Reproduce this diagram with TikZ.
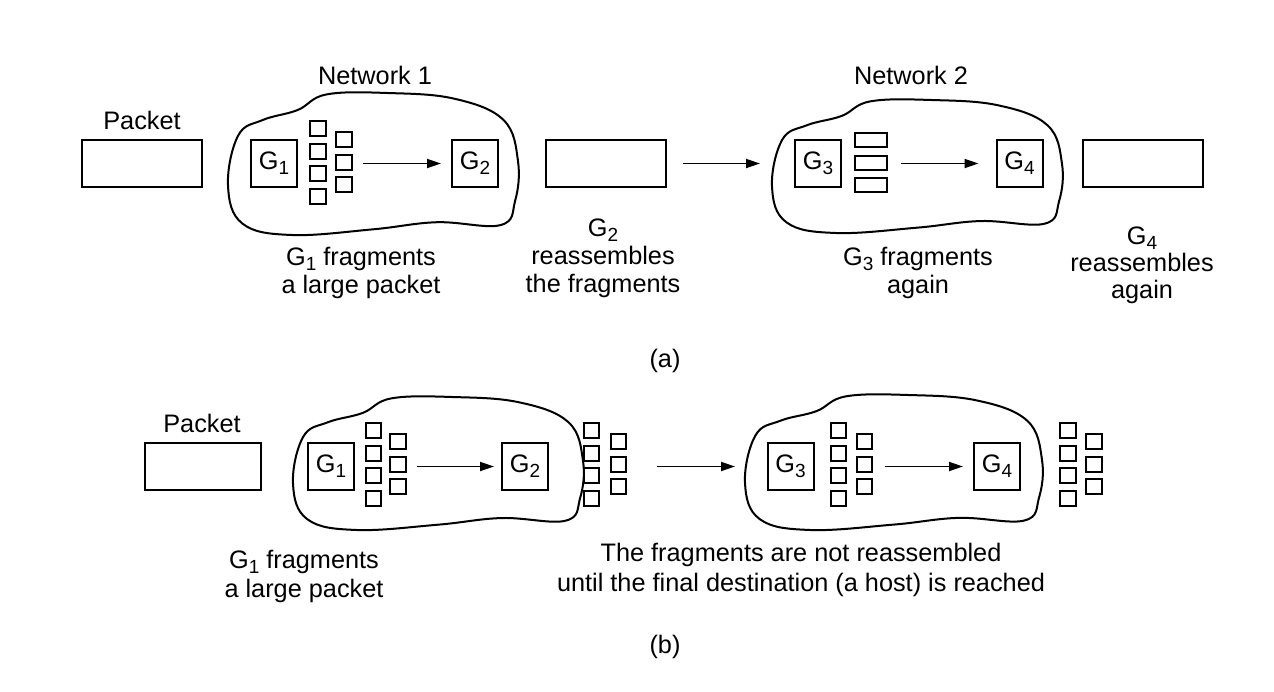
\documentclass[tikz,border=0pt]{standalone}
\usepackage{fontspec}
\setmainfont{Liberation Sans}
\usetikzlibrary{arrows.meta}
\newcommand\fs{\fontsize{25.3}{28}\selectfont}
\newcommand\gs[1]{G\raisebox{-5pt}{\fontsize{19}{19}\selectfont #1}}
\newcommand\netcloud[4]{%
  \begin{scope}[shift={(#1,#4)}, xscale={#3-#1}, yscale={-(#4-#2)}]
    \draw[cloudline] plot[smooth cycle, tension=0.65] coordinates {
      (0,0.35) (0.035,0.70) (0.12,0.81) (0.24,0.88) (0.34,0.99) (0.55,1.0)
      (0.78,0.96) (0.95,0.81) (1.0,0.52) (0.99,0.24) (0.94,0.07) (0.72,0.09)
      (0.50,0.04) (0.22,0.0) (0.05,0.08)};
  \end{scope}}
\begin{document}
\begin{tikzpicture}[x=1pt,y=-1pt,line width=2pt,
  gw/.style={draw, inner sep=0pt, minimum width=46pt, minimum height=47pt, font=\fs},
  pkt/.style={draw, inner sep=0pt, minimum width=120pt, minimum height=47pt},
  sq/.style={draw, inner sep=0pt, minimum width=15.5pt, minimum height=15pt},
  wsq/.style={draw, inner sep=0pt, minimum width=32pt, minimum height=14.5pt},
  txt/.style={inner sep=0pt, anchor=base, font=\fs},
  arr/.style={line width=1.8pt, -{Triangle[length=14pt,width=9pt]}},
  cloudline/.style={line width=2pt}]
\useasboundingbox (0,0) rectangle (1274,691);

% ---------------- (a) ----------------
\node[txt] (n1) at (375,84) {Network 1};
\node[txt] (n2) at (911,84) {Network 2};
\netcloud{228}{93}{518}{235}
\netcloud{772}{100}{1062}{233}

\node[pkt] (pA1) at (142,163.5) {};
\node[txt] (lpA) at (142,129.5) {Packet};
\node[gw] (g1a) at (274,163.5) {\gs{1}};
\foreach \y [count=\i] in {128.5,151,173.5,196} \node[sq] (fa1\i) at (318,\y) {};
\foreach \y [count=\i] in {139.5,162,184.5} \node[sq] (fa2\i) at (344,\y) {};
\coordinate (a1s) at (363,163.5);
\node[gw] (g2a) at (475,163.5) {\gs{2}};
\draw[arr, shorten >=10pt] (a1s) -- (g2a.west);

\node[pkt] (pA2) at (606,163.5) {};
\coordinate (a2s) at (683,163.5);
\coordinate (a2e) at (760,163.5);
\draw[arr] (a2s) -- (a2e);

\node[gw] (g3a) at (818,163.5) {\gs{3}};
\foreach \y [count=\i] in {140,163,185} \node[wsq] (fw\i) at (871,\y) {};
\coordinate (a3s) at (901,163.5);
\node[gw] (g4a) at (1019.5,163.5) {\gs{4}};
\draw[arr, shorten >=17pt] (a3s) -- (g4a.west);
\node[pkt] (pA3) at (1143,163.5) {};

\node[txt] (t1a) at (361,265) {\gs{1} fragments};
\node[txt] (t1b) at (361,293) {a large packet};
\node[txt] (t2a) at (603,236) {\gs{2}};
\node[txt] (t2b) at (603,264) {reassembles};
\node[txt] (t2c) at (603,292) {the fragments};
\node[txt] (t3a) at (918,265) {\gs{3} fragments};
\node[txt] (t3b) at (918,293) {again};
\node[txt] (t4a) at (1142,244) {\gs{4}};
\node[txt] (t4b) at (1142,271) {reassembles};
\node[txt] (t4c) at (1142,298) {again};
\node[txt] (capa) at (665,367) {(a)};

% ---------------- (b) ----------------
\netcloud{293}{397}{583}{530}
\netcloud{745}{395}{1042}{530}

\node[pkt, minimum width=116pt] (pB) at (203,466.5) {};
\node[txt] (lpB) at (202,432) {Packet};
\node[gw] (g1b) at (331,466.5) {\gs{1}};
\foreach \y [count=\i] in {430,453,475,498} \node[sq] (fb1\i) at (373.5,\y) {};
\foreach \y [count=\i] in {441,464,486} \node[sq] (fb2\i) at (398,\y) {};
\coordinate (b1s) at (417,466.5);
\node[gw] (g2b) at (525,466.5) {\gs{2}};
\draw[arr, shorten >=7pt] (b1s) -- (g2b.west);

\foreach \y [count=\i] in {430,453,475,498} \node[sq] (fc1\i) at (591.5,\y) {};
\foreach \y [count=\i] in {441,464,486} \node[sq] (fc2\i) at (618.5,\y) {};
\coordinate (b2s) at (657,466.5);
\coordinate (b2e) at (735,466.5);
\draw[arr] (b2s) -- (b2e);

\node[gw] (g3b) at (790.5,466.5) {\gs{3}};
\foreach \y [count=\i] in {430,453,475,498} \node[sq] (fd1\i) at (838.5,\y) {};
\foreach \y [count=\i] in {441,464,486} \node[sq] (fd2\i) at (864.5,\y) {};
\coordinate (b3s) at (885,466.5);
\node[gw] (g4b) at (997,466.5) {\gs{4}};
\draw[arr, shorten >=10pt] (b3s) -- (g4b.west);

\foreach \y [count=\i] in {430,453,475,498} \node[sq] (fe1\i) at (1068,\y) {};
\foreach \y [count=\i] in {441,464,486} \node[sq] (fe2\i) at (1094,\y) {};

\node[txt] (u1a) at (304,568) {\gs{1} fragments};
\node[txt] (u1b) at (304,597) {a large packet};
\node[txt] (u2a) at (801,561) {The fragments are not reassembled};
\node[txt] (u2b) at (801,591) {until the final destination (a host) is reached};
\node[txt] (capb) at (665,653) {(b)};
\end{tikzpicture}
\end{document}
